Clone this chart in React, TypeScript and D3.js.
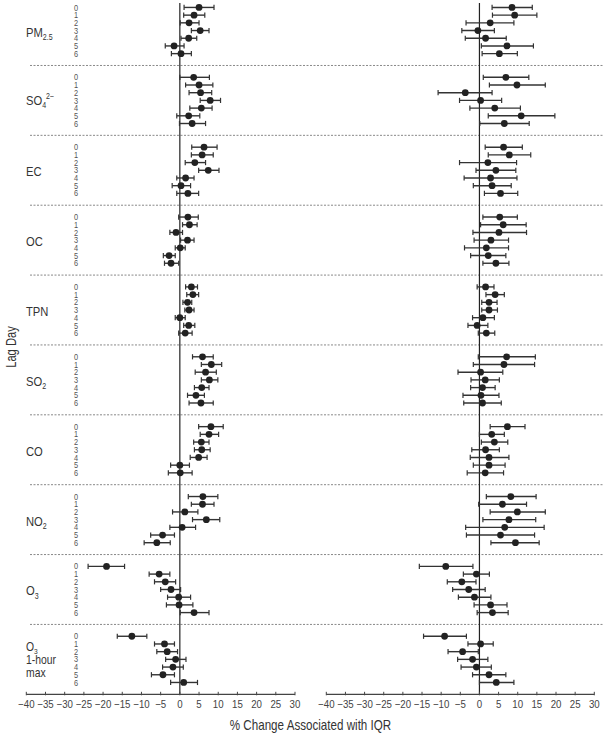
import React from "react";
import * as d3 from "d3";

const pollutants = ["PM2.5", "SO4", "EC", "OC", "TPN", "SO2", "CO", "NO2", "O3", "O3max"];
const lagDays = [0, 1, 2, 3, 4, 5, 6];
const xTicks = [-40, -35, -30, -25, -20, -15, -10, -5, 0, 5, 10, 15, 20, 25, 30];

const leftEstimate = [
  [5.0, 3.7, 2.4, 5.3, 2.3, -1.5, 0.3],
  [3.6, 5.0, 5.4, 7.9, 5.6, 2.3, 3.2],
  [6.3, 5.8, 3.9, 7.4, 1.5, 0.3, 2.1],
  [2.1, 2.5, -1.0, 2.0, 0.1, -2.8, -2.3],
  [3.0, 3.4, 2.0, 2.4, 0.0, 2.3, 1.4],
  [5.9, 8.2, 6.7, 7.7, 5.7, 4.2, 5.5],
  [8.1, 7.6, 5.6, 5.7, 4.9, 0.0, 0.1],
  [6.0, 5.9, 1.3, 6.9, 0.6, -4.5, -6.0],
  [-19.1, -5.4, -3.8, -2.3, -0.3, -0.2, 3.7],
  [-12.5, -4.0, -3.3, -1.1, -1.8, -4.4, 1.0],
];
const leftLower = [
  [1.1, 1.0, 0.1, 3.0, 0.3, -3.8, -2.2],
  [0.0, 1.5, 2.4, 5.3, 2.6, -0.8, -0.1],
  [3.1, 3.0, 1.4, 4.9, -0.8, -2.0, -0.8],
  [-0.3, 0.7, -2.6, 0.2, -1.2, -4.3, -4.0],
  [1.5, 1.8, 0.8, 1.3, -1.2, 1.0, -0.3],
  [3.3, 5.6, 4.0, 5.6, 3.8, 2.0, 2.4],
  [4.9, 5.3, 3.6, 3.8, 2.7, -2.4, -3.0],
  [2.2, 3.0, -1.9, 3.3, -2.6, -7.6, -9.3],
  [-23.9, -8.0, -6.6, -5.0, -3.2, -3.5, 0.1],
  [-16.3, -6.6, -6.0, -3.7, -4.5, -7.4, -2.4],
];
const leftUpper = [
  [8.9, 6.5, 5.0, 7.6, 4.4, 1.1, 3.0],
  [7.7, 8.6, 8.3, 10.6, 8.4, 5.2, 6.7],
  [9.7, 8.7, 6.7, 10.2, 3.7, 2.8, 4.9],
  [4.8, 4.5, 0.7, 3.7, 1.4, -1.2, -0.3],
  [4.6, 4.9, 3.1, 3.7, 1.4, 3.9, 3.2],
  [8.7, 10.9, 9.5, 9.9, 7.6, 6.4, 8.7],
  [11.3, 10.1, 7.6, 7.9, 7.1, 2.5, 3.2],
  [9.9, 8.9, 4.7, 10.4, 4.1, -1.4, -2.5],
  [-14.4, -2.6, -1.1, 0.2, 2.8, 3.4, 7.6],
  [-8.6, -1.4, -0.6, 1.6, 0.9, -1.4, 4.6],
];

const rightEstimate = [
  [8.5, 9.2, 2.8, -0.4, 1.6, 7.2, 5.2],
  [6.9, 9.8, -3.7, 0.3, 4.0, 10.9, 6.5],
  [6.3, 7.8, 2.2, 4.3, 2.9, 3.3, 5.5],
  [5.3, 6.2, 5.1, 3.0, 1.8, 2.3, 4.3],
  [1.6, 4.1, 2.5, 2.5, 0.9, -0.6, 1.8],
  [7.1, 6.4, 0.3, 1.5, 0.8, 0.4, 0.8],
  [7.3, 3.2, 3.9, 1.6, 2.5, 2.5, 1.5],
  [8.2, 6.0, 9.9, 7.7, 6.6, 5.5, 9.4],
  [-8.8, -0.8, -4.6, -2.8, -1.3, 2.9, 3.4],
  [-9.1, 0.3, -4.4, -1.8, -0.8, 2.5, 4.4],
];
const rightLower = [
  [3.3, 3.4, -3.5, -4.6, -3.7, 0.5, 0.7],
  [1.0, 2.6, -10.8, -5.2, -2.5, 2.3, 0.1],
  [1.5, 2.3, -5.2, -0.9, -4.0, -1.6, 1.3],
  [0.9, 0.3, -1.7, -1.4, -3.9, -2.3, 0.9],
  [-0.6, 1.7, 0.6, 0.6, -1.8, -3.0, -0.3],
  [-0.3, -1.6, -5.6, -2.2, -2.3, -4.3, -4.1],
  [2.8, 0.0, 0.5, -2.0, -2.4, -1.6, -3.2],
  [1.8, -0.2, 2.8, 0.9, -3.6, -3.4, 3.0],
  [-15.7, -4.2, -8.4, -7.0, -5.5, -1.4, -0.6],
  [-14.6, -3.0, -8.2, -5.7, -4.8, -1.8, 0.0],
];
const rightUpper = [
  [13.8, 15.0, 9.0, 3.9, 7.0, 14.1, 9.9],
  [12.9, 17.2, 3.3, 5.8, 10.7, 19.7, 13.0],
  [11.2, 13.4, 9.7, 9.5, 9.8, 8.3, 10.0],
  [9.9, 12.2, 12.3, 7.6, 7.6, 6.9, 7.7],
  [3.8, 6.5, 4.6, 4.7, 3.9, 2.2, 4.0],
  [14.6, 14.4, 6.1, 5.2, 4.1, 5.1, 5.7],
  [11.9, 6.5, 7.4, 5.2, 7.7, 6.7, 6.3],
  [14.8, 12.3, 17.2, 14.7, 16.9, 14.4, 15.6],
  [-1.7, 2.6, -0.9, 1.5, 3.0, 7.2, 7.5],
  [-3.4, 3.6, -0.3, 2.2, 3.1, 6.9, 9.0],
];

const W = 604;
const H = 736;
const FONT = "'Liberation Sans', Arial, Helvetica, sans-serif";
const INK = "#222";
const AXIS_Y = 694.3;

const xLeft = d3.scaleLinear().domain([-40, 30]).range([26.3, 295]);
const xRight = d3.scaleLinear().domain([-40, 30]).range([326.3, 594.3]);
const yGroup = d3.scaleBand<string>().domain(pollutants).range([-4.4, AXIS_Y]);
const yLag = d3.scaleLinear().domain([0, 6]).range([-23.1, 23.1]);

const rowY = (gi: number, lag: number) =>
  (yGroup(pollutants[gi]) as number) + yGroup.bandwidth() / 2 + yLag(lag);

function Label({ gi }: { gi: number }) {
  const cy = (yGroup(pollutants[gi]) as number) + yGroup.bandwidth() / 2;
  const common = { fontFamily: FONT, fill: "#333", fontSize: 13.5 };
  const name = pollutants[gi];
  const tr = (y: number) => `translate(26,${y}) scale(0.83,1)`;
  if (name === "PM2.5")
    return (
      <text transform={tr(cy + 6)} {...common}>
        PM<tspan fontSize={8.5} dy={3}>2.5</tspan>
      </text>
    );
  if (name === "SO4")
    return (
      <text transform={tr(cy + 5)} {...common}>
        SO<tspan fontSize={8.5} dy={3}>4</tspan>
        <tspan fontSize={8.5} dy={-9}>2−</tspan>
      </text>
    );
  if (name === "SO2" || name === "NO2")
    return (
      <text transform={tr(cy + 6)} {...common}>
        {name.slice(0, 2)}
        <tspan fontSize={8.5} dy={3}>2</tspan>
      </text>
    );
  if (name === "O3")
    return (
      <text transform={tr(cy + 6)} {...common}>
        O<tspan fontSize={8.5} dy={3}>3</tspan>
      </text>
    );
  if (name === "O3max") {
    const small = { ...common, fontSize: 12.5 };
    return (
      <g>
        <text transform={tr(cy - 8)} {...small}>
          O<tspan fontSize={8} dy={3}>3</tspan>
        </text>
        <text transform={tr(cy + 5)} {...small}>1-hour</text>
        <text transform={tr(cy + 18)} {...small}>max</text>
      </g>
    );
  }
  return (
    <text transform={tr(cy + 6)} {...common}>
      {name}
    </text>
  );
}

function Panel({
  x,
  est,
  lo,
  hi,
}: {
  x: d3.ScaleLinear<number, number>;
  est: number[][];
  lo: number[][];
  hi: number[][];
}) {
  const [r0, r1] = x.range();
  return (
    <g>
      <line x1={x(0)} x2={x(0)} y1={3} y2={AXIS_Y} stroke={INK} strokeWidth={1.2} />
      {pollutants.map((p, gi) =>
        lagDays.map((lag) => {
          const y = rowY(gi, lag);
          const a = x(lo[gi][lag]);
          const b = x(hi[gi][lag]);
          return (
            <g key={`${p}-${lag}`}>
              <line x1={a} x2={b} y1={y} y2={y} stroke="#333" strokeWidth={1.4} />
              <line x1={a} x2={a} y1={y - 2.6} y2={y + 2.6} stroke="#333" strokeWidth={1.2} />
              <line x1={b} x2={b} y1={y - 2.6} y2={y + 2.6} stroke="#333" strokeWidth={1.2} />
              <circle cx={x(est[gi][lag])} cy={y} r={3.4} fill={INK} />
            </g>
          );
        })
      )}
      <line x1={r0} x2={r1} y1={AXIS_Y} y2={AXIS_Y} stroke="#444" strokeWidth={1.2} />
      {xTicks.map((t) => (
        <g key={t}>
          <line x1={x(t)} x2={x(t)} y1={AXIS_Y - 2.5} y2={AXIS_Y + 1} stroke="#444" strokeWidth={1} />
          <text
            transform={`translate(${x(t)},${AXIS_Y + 14}) scale(0.88,1)`}
            textAnchor="middle"
            fontFamily={FONT}
            fontSize={11}
            fill="#444"
          >
            {t < 0 ? `−${Math.abs(t)}` : `${t}`}
          </text>
        </g>
      ))}
    </g>
  );
}

export default function App() {
  return (
    <svg
      width={W}
      height={H}
      viewBox={`0 0 ${W} ${H}`}
      style={{ position: "absolute", left: 0, top: 0, background: "#fff" }}
    >
      <rect x={0} y={0} width={W} height={H} fill="#fff" />
      {pollutants.slice(1).map((p) => (
        <line
          key={p}
          x1={30}
          x2={W}
          y1={yGroup(p) as number}
          y2={yGroup(p) as number}
          stroke="#888"
          strokeWidth={1}
          strokeDasharray="2,1.5"
        />
      ))}
      {pollutants.map((p, gi) => (
        <g key={p}>
          <Label gi={gi} />
          {lagDays.map((lag) => (
            <text
              key={lag}
              transform={`translate(76,${rowY(gi, lag) + 3.1}) scale(0.82,1)`}
              textAnchor="middle"
              fontFamily={FONT}
              fontSize={9}
              fill="#555"
            >
              {lag}
            </text>
          ))}
        </g>
      ))}
      <Panel x={xLeft} est={leftEstimate} lo={leftLower} hi={leftUpper} />
      <Panel x={xRight} est={rightEstimate} lo={rightLower} hi={rightUpper} />
      <text
        transform={`translate(16,347) rotate(-90) scale(0.8,1)`}
        textAnchor="middle"
        fontFamily={FONT}
        fontSize={14}
        fill="#333"
      >
        Lag Day
      </text>
      <text
        transform={`translate(310.5,730) scale(0.83,1)`}
        textAnchor="middle"
        fontFamily={FONT}
        fontSize={14}
        fill="#333"
      >
        % Change Associated with IQR
      </text>
    </svg>
  );
}
